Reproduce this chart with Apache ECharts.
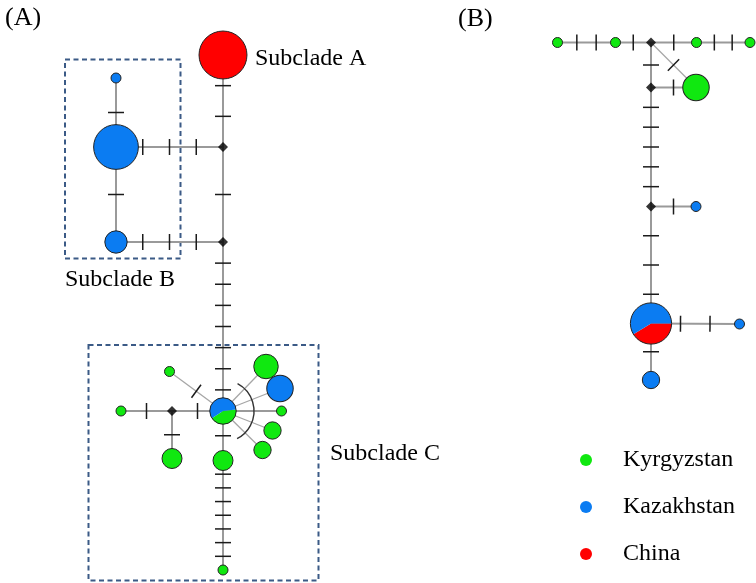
<!DOCTYPE html>
<html><head><meta charset="utf-8">
<script src="https://cdn.jsdelivr.net/npm/echarts@6/dist/echarts.min.js"></script>
<style>html,body{margin:0;padding:0;background:#fff}#c{width:756px;height:583px}</style>
</head><body><div id="c"></div>
<script>
// ---- data ----
const countries = ['Kyrgyzstan', 'Kazakhstan', 'China'];
const countryColors = ['#10e810', '#0b7cf2', '#ff0000'];

// haplotypes: id, x, y, sample counts [Kyrgyzstan, Kazakhstan, China]
const haplotypes = [
  ['A1', 223, 55, [0, 0, 23]],
  ['B1', 116, 78, [0, 1, 0]],
  ['B2', 116, 147, [0, 20, 0]],
  ['B3', 116, 242, [0, 5, 0]],
  ['C0', 223, 411, [3, 4, 0]],
  ['C1', 223, 460.5, [4, 0, 0]],
  ['C2', 223, 570, [1, 0, 0]],
  ['C3', 121, 411, [1, 0, 0]],
  ['C4', 172, 458.5, [4, 0, 0]],
  ['C5', 169.5, 371.5, [1, 0, 0]],
  ['C6', 266, 366.5, [6, 0, 0]],
  ['C7', 280, 388.5, [0, 7, 0]],
  ['C8', 281.5, 411, [1, 0, 0]],
  ['C9', 272.5, 430.5, [3, 0, 0]],
  ['C10', 262.5, 450, [3, 0, 0]],
  ['D1', 557.5, 42.5, [1, 0, 0]],
  ['D2', 615.5, 42.5, [1, 0, 0]],
  ['D3', 696.5, 42.5, [1, 0, 0]],
  ['D4', 750, 42.5, [1, 0, 0]],
  ['D5', 696, 87.5, [7, 0, 0]],
  ['D6', 696, 206.5, [0, 1, 0]],
  ['D7', 651, 323.5, [0, 10, 7]],
  ['D8', 739.5, 324, [0, 1, 0]],
  ['D9', 651, 380, [0, 3, 0]]
];

// median vectors (inferred, unsampled)
const medianVectors = [
  ['M1', 223, 147], ['M2', 223, 242], ['M3', 172, 411],
  ['M4', 651, 42.5], ['M5', 651, 87.5], ['M6', 651, 206.5]
];

// edges: from, to, number of mutations
const edges = [
  ['A1', 'M1', 2], ['M1', 'M2', 1], ['B2', 'M1', 3], ['B1', 'B2', 1], ['B2', 'B3', 1],
  ['B3', 'M2', 3], ['M2', 'C0', 7], ['C0', 'C1', 1], ['C1', 'C2', 7], ['C0', 'M3', 1],
  ['M3', 'C3', 1], ['M3', 'C4', 1], ['C0', 'C5', 1],
  ['C0', 'C6', 0], ['C0', 'C7', 0], ['C0', 'C8', 0], ['C0', 'C9', 0], ['C0', 'C10', 0],
  ['D1', 'D2', 2], ['D2', 'M4', 1], ['M4', 'D3', 1], ['D3', 'D4', 2], ['M4', 'D5', 1],
  ['M4', 'M5', 1], ['M5', 'D5', 1], ['M5', 'M6', 5], ['M6', 'D6', 1], ['M6', 'D7', 3],
  ['D7', 'D8', 2], ['D7', 'D9', 1]
];

// text labels: text, x, y
const labels = [
  ['(A)', 5, 18], ['(B)', 458, 19],
  ['Subclade A', 255, 59], ['Subclade B', 65, 280], ['Subclade C', 330, 454]
];
const labelSizes = [26, 26, 24, 24, 24];

// subclade boxes: x1, y1, x2, y2
const cladeBoxes = [[65, 59.5, 180.5, 258.5], [88.5, 345, 318.5, 580.5]];

// ---- build ----
const pos = {};
haplotypes.forEach(h => pos[h[0]] = [h[1], h[2]]);
medianVectors.forEach(m => pos[m[0]] = [m[1], m[2]]);
const total = h => h[3].reduce((a, b) => a + b, 0);
const radius = n => 5 * Math.sqrt(n);
const SERIF = '"Liberation Serif", "Times New Roman", serif';

const pieStart = { C0: -7, D7: 0 };
const pieOrder = [0, 2, 1];
const pies = haplotypes.filter(h => h[3].filter(v => v > 0).length > 1);

const countrySeries = countries.map((name, ci) => ({
  name, type: 'scatter', z: 5,
  symbol: 'circle',
  symbolSize: v => 2 * radius(v[2]),
  itemStyle: { color: countryColors[ci], borderColor: '#222', borderWidth: 1, opacity: 1 },
  emphasis: { disabled: true },
  data: haplotypes.filter(h => h[3].filter(v => v > 0).length === 1 && h[3][ci] > 0)
    .map(h => [h[1], h[2], total(h)])
}));

const option = {
  animation: false,
  grid: { left: 0, right: 0, top: 0, bottom: 0 },
  xAxis: { type: 'value', min: 0, max: 756, show: false },
  yAxis: { type: 'value', min: 0, max: 583, inverse: true, show: false },
  legend: {
    data: countries, orient: 'vertical', left: 575, top: 443,
    itemWidth: 64, itemHeight: 12, itemGap: 23, icon: 'circle',
    selectedMode: false,
    itemStyle: { borderWidth: 0 },
    textStyle: { fontFamily: SERIF, fontSize: 24, color: '#000', lineHeight: 24 }
  },
  series: [
    {
      type: 'custom', z: 0, silent: true,
      data: cladeBoxes,
      renderItem: (params, api) => {
        const a = api.coord([api.value(0), api.value(1)]);
        const b = api.coord([api.value(2), api.value(3)]);
        return { type: 'rect', shape: { x: a[0], y: a[1], width: b[0] - a[0], height: b[1] - a[1] },
          style: { fill: 'none', stroke: '#3b5a86', lineWidth: 2, lineDash: [5, 3.5] } };
      }
    },
    {
      type: 'custom', z: 1, silent: true,
      data: edges.map(e => [pos[e[0]][0], pos[e[0]][1], pos[e[1]][0], pos[e[1]][1], e[2]]),
      renderItem: (params, api) => {
        const p = api.coord([api.value(0), api.value(1)]);
        const q = api.coord([api.value(2), api.value(3)]);
        const m = api.value(4);
        const dx = q[0] - p[0], dy = q[1] - p[1];
        const len = Math.hypot(dx, dy);
        const diag = Math.abs(dx) > 1 && Math.abs(dy) > 1;
        const children = [{ type: 'line', shape: { x1: p[0], y1: p[1], x2: q[0], y2: q[1] },
          style: { stroke: diag ? '#a6a6a6' : '#9a9a9a', lineWidth: diag ? 1.3 : 2 } }];
        const nx = -dy / len, ny = dx / len, h = 8;
        for (let k = 1; k <= m; k++) {
          const cx = p[0] + dx * k / (m + 1), cy = p[1] + dy * k / (m + 1);
          children.push({ type: 'line', shape: { x1: cx - nx * h, y1: cy - ny * h, x2: cx + nx * h, y2: cy + ny * h },
            style: { stroke: '#1b1b1b', lineWidth: 1.5 } });
        }
        return { type: 'group', children };
      }
    },
    {
      type: 'custom', z: 2, silent: true,
      data: [[pos.C0[0], pos.C0[1]]],
      renderItem: (params, api) => {
        const c = api.coord([api.value(0), api.value(1)]);
        return { type: 'arc', shape: { cx: c[0], cy: c[1], r: 31, startAngle: -62 * Math.PI / 180, endAngle: 63 * Math.PI / 180, clockwise: true },
          style: { stroke: '#333', lineWidth: 1.4, fill: 'none' } };
      }
    },
    ...countrySeries,
    {
      type: 'custom', z: 5, silent: true,
      data: pies.map(h => [h[1], h[2]].concat(h[3])),
      renderItem: (params, api) => {
        const h = pies[params.dataIndex];
        const c = api.coord([api.value(0), api.value(1)]);
        const counts = [api.value(2), api.value(3), api.value(4)];
        const n = counts[0] + counts[1] + counts[2];
        const r = radius(n);
        let a = (pieStart[h[0]] || 0) * Math.PI / 180;
        const children = [];
        pieOrder.forEach(ci => {
          if (!counts[ci]) return;
          const span = counts[ci] / n * Math.PI * 2;
          children.push({ type: 'sector', shape: { cx: c[0], cy: c[1], r0: 0, r, startAngle: a, endAngle: a + span, clockwise: true },
            style: { fill: countryColors[ci] } });
          a += span;
        });
        children.push({ type: 'circle', shape: { cx: c[0], cy: c[1], r }, style: { fill: 'none', stroke: '#222', lineWidth: 1 } });
        return { type: 'group', children };
      }
    },
    {
      type: 'scatter', z: 5, symbol: 'diamond', symbolSize: 10, silent: true,
      itemStyle: { color: '#000' },
      data: medianVectors.map(m => [m[1], m[2]])
    },
    {
      type: 'custom', z: 6, silent: true,
      data: labels.map(l => [l[1], l[2]]),
      renderItem: (params, api) => {
        const c = api.coord([api.value(0), api.value(1)]);
        return { type: 'text', style: { text: labels[params.dataIndex][0], x: c[0], y: c[1],
          fontFamily: SERIF, fontSize: labelSizes[params.dataIndex], fill: '#000', align: 'left', verticalAlign: 'middle' } };
      }
    }
  ]
};
const chart = echarts.init(document.getElementById('c'));
chart.setOption(option);
</script></body></html>
